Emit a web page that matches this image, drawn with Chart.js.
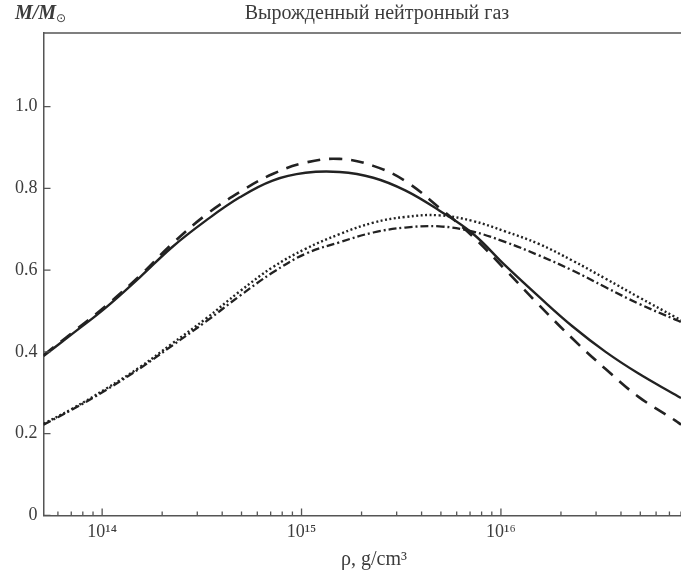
<!DOCTYPE html>
<html lang="ru">
<head>
<meta charset="UTF-8">
<title>Вырожденный нейтронный газ</title>
<script src="https://cdn.jsdelivr.net/npm/chart.js"></script>
<style>
  body { margin: 0; background: #fff; }
  canvas { display: block; }
</style>
</head>
<body>
<canvas id="massChart" width="681" height="576"></canvas>
<script>
  // density, g/cm^3
  const rho = [5.08e13, 7.08e13, 1.047e14, 1.55e14, 2.24e14, 3.31e14, 4.9e14, 7.16e14, 1.047e15, 1.55e15,
               2.29e15, 3.31e15, 4.9e15, 7.24e15, 1.047e16, 1.55e16, 2.29e16, 3.35e16, 4.9e16, 7.5e16, 8e16];

  // M / M_sun for the four curves
  const massSolid  = [0.390, 0.444, 0.509, 0.583, 0.656, 0.721, 0.778, 0.819, 0.838, 0.840,
                      0.826, 0.795, 0.746, 0.689, 0.612, 0.535, 0.462, 0.400, 0.347, 0.295, 0.287];
  const massDashed = [0.392, 0.447, 0.513, 0.587, 0.664, 0.735, 0.791, 0.835, 0.863, 0.872,
                      0.855, 0.818, 0.753, 0.682, 0.602, 0.515, 0.432, 0.358, 0.290, 0.232, 0.222];
  const massDotted = [0.224, 0.261, 0.310, 0.363, 0.420, 0.481, 0.548, 0.607, 0.652, 0.688,
                      0.716, 0.730, 0.734, 0.720, 0.695, 0.664, 0.623, 0.579, 0.534, 0.485, 0.478];
  const massDashDot = [0.222, 0.259, 0.307, 0.360, 0.415, 0.474, 0.537, 0.594, 0.640, 0.668,
                       0.692, 0.704, 0.707, 0.694, 0.669, 0.636, 0.599, 0.558, 0.518, 0.479, 0.473];

  const yTicks = [0, 0.2, 0.4, 0.6, 0.8, 1.0];
  const yTickLabels = ['0', '0.2', '0.4', '0.6', '0.8', '1.0'];
  const xDecades = [13, 14, 15, 16];
  const xTickLabels = { 14: '10¹⁴', 15: '10¹⁵', 16: '10¹⁶' };

  const ink = '#222';
  const textColor = '#3c3c3c';
  const serif = "'Liberation Serif', 'DejaVu Serif', serif";

  function series(values, dash, width) {
    return {
      data: rho.map((r, i) => ({ x: r, y: values[i] })),
      borderColor: ink,
      borderWidth: width,
      borderDash: dash,
      pointRadius: 0,
      fill: false,
      tension: 0.4
    };
  }

  // inward tick marks, top frame line and the free texts
  const decor = {
    id: 'decor',
    afterDraw(chart) {
      const c = chart.ctx;
      const area = chart.chartArea;
      const xs = chart.scales.x;
      const ys = chart.scales.y;
      c.save();
      c.strokeStyle = '#555';
      c.lineWidth = 1.3;
      c.beginPath();
      c.moveTo(area.left, area.top);
      c.lineTo(area.right, area.top);
      xs.ticks.forEach(t => {
        const px = xs.getPixelForValue(t.value);
        const major = Number.isInteger(Math.round(Math.log10(t.value) * 1000) / 1000);
        c.moveTo(px, area.bottom);
        c.lineTo(px, area.bottom - (major ? 7 : 4));
      });
      yTicks.forEach(v => {
        const py = ys.getPixelForValue(v);
        c.moveTo(area.left, py);
        c.lineTo(area.left + 7, py);
      });
      c.stroke();

      c.fillStyle = textColor;
      c.textBaseline = 'middle';
      c.textAlign = 'center';
      c.font = '20px ' + serif;
      c.fillText('Вырожденный нейтронный газ', 377, 14);
      c.fillText('ρ, g/cm³', 374, 560);

      c.textAlign = 'left';
      c.font = 'italic bold 20px ' + serif;
      c.fillText('M/M', 15, 14);
      const w = c.measureText('M/M').width;
      c.font = '12px ' + "'DejaVu Sans', sans-serif";
      c.fillText('⊙', 15 + w, 19);
      c.restore();
    }
  };

  new Chart(document.getElementById('massChart'), {
    type: 'line',
    data: {
      datasets: [
        series(massSolid, [], 2.4),
        series(massDashed, [13, 9], 2.6),
        series(massDotted, [2, 2.5], 2.4),
        series(massDashDot, [8, 3, 2, 3], 2.3)
      ]
    },
    options: {
      responsive: false,
      animation: false,
      layout: { padding: { left: 9, top: 33, right: 0, bottom: 27 } },
      plugins: {
        legend: { display: false },
        tooltip: { enabled: false }
      },
      scales: {
        x: {
          type: 'logarithmic',
          min: 5.08e13,
          max: 8e16,
          afterBuildTicks(scale) {
            const ticks = [];
            xDecades.forEach(e => {
              for (let m = 1; m <= 9; m++) {
                const v = m * Math.pow(10, e);
                if (v >= scale.min && v <= scale.max) ticks.push({ value: v });
              }
            });
            scale.ticks = ticks;
          },
          afterFit(scale) {
            scale.paddingRight = 0;
          },
          grid: { display: false, drawTicks: false },
          border: { display: true, color: '#555', width: 1.5 },
          ticks: {
            autoSkip: false,
            maxRotation: 0,
            padding: 6,
            color: textColor,
            font: { family: serif, size: 18 },
            callback: v => xTickLabels[Math.round(Math.log10(v) * 1000) / 1000] || ''
          }
        },
        y: {
          min: 0,
          max: 1.18,
          afterBuildTicks(scale) {
            scale.ticks = yTicks.map(v => ({ value: v }));
          },
          grid: { display: false, drawTicks: false },
          border: { display: true, color: '#555', width: 1.5 },
          ticks: {
            padding: 6,
            color: textColor,
            font: { family: serif, size: 18 },
            callback: (v, i) => yTickLabels[yTicks.indexOf(v)] ?? ''
          }
        }
      }
    },
    plugins: [decor]
  });
</script>
</body>
</html>
